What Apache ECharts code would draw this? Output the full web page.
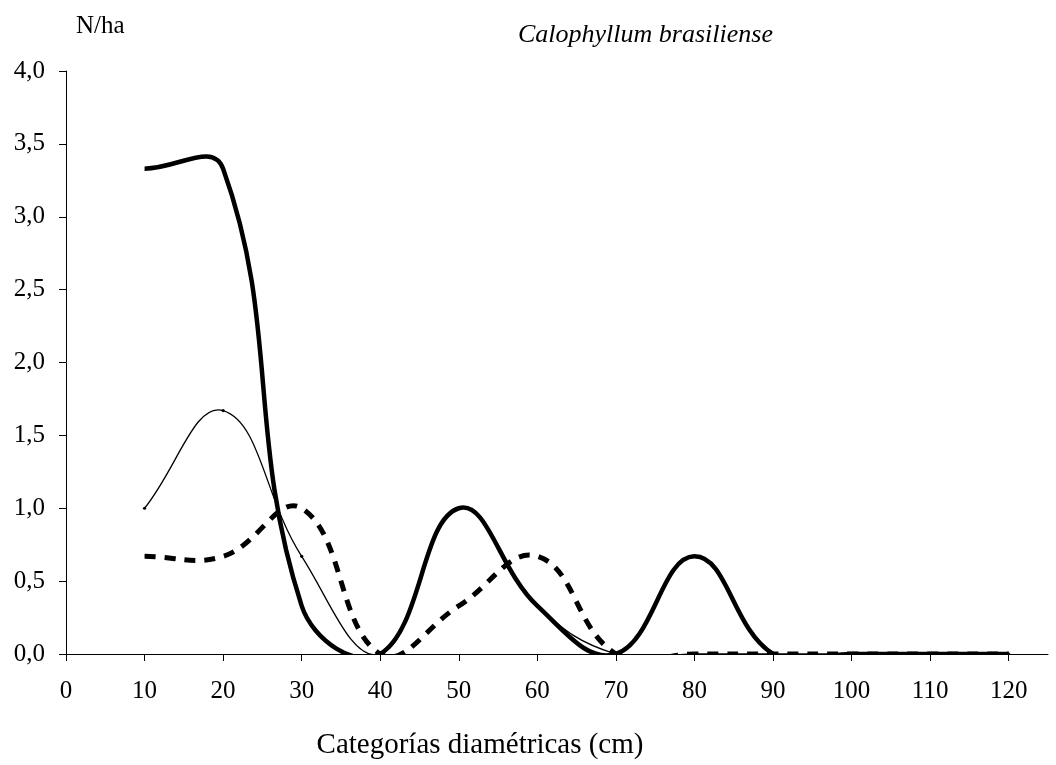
<!DOCTYPE html>
<html>
<head>
<meta charset="utf-8">
<script src="https://cdn.jsdelivr.net/npm/echarts@6/dist/echarts.min.js"></script>
<style>
  html, body { margin: 0; padding: 0; background: #fff; }
  #chart { width: 1056px; height: 765px; }
</style>
</head>
<body>
<div id="chart"></div>
<script>
// categorías diamétricas (cm)
const diametros = [10, 20, 30, 40, 50, 60, 70, 80, 90, 100, 110, 120];
// N/ha por serie
const serieGruesa = [3.33, 3.33, 0.33, 0, 1.0, 0.33, 0, 0.67, 0, 0, 0, 0];
const serieFina = [1.0, 1.67, 0.67, 0, 1.0, 0.33, 0, 0, 0, 0, 0, 0];
const serieDiscontinua = [0.67, 0.67, 1.0, 0, 0.33, 0.67, 0, 0, 0, 0, 0, 0];
const xTicks = [0, 10, 20, 30, 40, 50, 60, 70, 80, 90, 100, 110, 120];

const pares = (ys) => diametros.map((x, i) => [x, ys[i]]);
const fuente = '"Liberation Serif", "Times New Roman", serif';

// curva suavizada tipo Excel (bezier con tangentes ponderadas por longitud)
function rutaSuave(pts, s) {
  const dist = (a, b) => Math.hypot(b[0] - a[0], b[1] - a[1]);
  let d = 'M' + pts[0][0] + ',' + pts[0][1];
  for (let i = 0; i < pts.length - 1; i++) {
    const p0 = pts[i - 1] || pts[i];
    const p1 = pts[i];
    const p2 = pts[i + 1];
    const p3 = pts[i + 2] || pts[i + 1];
    const d01 = dist(p0, p1), d12 = dist(p1, p2), d23 = dist(p2, p3);
    const r1 = d01 + d12 > 0 ? s * d12 / (d01 + d12) : 0;
    const r2 = d12 + d23 > 0 ? s * d12 / (d12 + d23) : 0;
    const c1 = [p1[0] + (p2[0] - p0[0]) * r1, p1[1] + (p2[1] - p0[1]) * r1];
    const c2 = [p2[0] - (p3[0] - p1[0]) * r2, p2[1] - (p3[1] - p1[1]) * r2];
    d += 'C' + c1[0] + ',' + c1[1] + ' ' + c2[0] + ',' + c2[1] + ' ' + p2[0] + ',' + p2[1];
  }
  return d;
}

function serieSuave(valores, estilo, puntos) {
  return {
    type: 'custom',
    data: pares(valores),
    encode: { x: 0, y: 1 },
    clip: true,
    silent: true,
    renderItem: function (params, api) {
      if (params.dataIndex !== 0) return null;
      const pts = diametros.map((x, i) => api.coord([x, valores[i]]));
      const hijos = [{
        type: 'path',
        shape: { pathData: rutaSuave(pts, 0.42) },
        style: Object.assign({ fill: null, stroke: '#000', lineCap: 'butt', lineJoin: 'round' }, estilo)
      }];
      if (puntos) {
        pts.forEach(p => hijos.push({
          type: 'circle', shape: { cx: p[0], cy: p[1], r: 1.6 }, style: { fill: '#000' }
        }));
      }
      return { type: 'group', children: hijos };
    }
  };
}

const chart = echarts.init(document.getElementById('chart'));

chart.setOption({
  animation: false,
  backgroundColor: '#fff',
  textStyle: { fontFamily: fuente, color: '#000' },
  title: [
    {
      text: 'Calophyllum brasiliense',
      left: 513, top: 17,
      textStyle: { fontFamily: fuente, fontStyle: 'italic', fontWeight: 'normal', fontSize: 26, color: '#000' }
    },
    {
      text: 'N/ha',
      left: 71, top: 9,
      textStyle: { fontFamily: fuente, fontWeight: 'normal', fontSize: 25, color: '#000' }
    }
  ],
  grid: { left: 66, right: 8, top: 71, bottom: 108, containLabel: false },
  xAxis: {
    type: 'value',
    min: 0, max: 125, interval: 10,
    name: 'Categorías diamétricas (cm)',
    nameLocation: 'middle',
    nameGap: 77,
    nameTextStyle: { fontFamily: fuente, fontSize: 29, color: '#000', padding: [0, 154, 0, 0] },
    splitLine: { show: false },
    axisLine: { lineStyle: { color: '#000', width: 1 } },
    axisTick: { inside: false, length: 7, lineStyle: { color: '#000' }, customValues: xTicks },
    axisLabel: { fontFamily: fuente, fontSize: 25, color: '#000', margin: 25, customValues: xTicks }
  },
  yAxis: {
    type: 'value',
    min: 0, max: 4, interval: 0.5,
    splitLine: { show: false },
    axisLine: { show: true, lineStyle: { color: '#000', width: 1 } },
    axisTick: { show: true, length: 7, lineStyle: { color: '#000' } },
    axisLabel: {
      fontFamily: fuente, fontSize: 25, color: '#000', margin: 21,
      formatter: (v) => v.toFixed(1).replace('.', ',')
    }
  },
  series: [
    serieSuave(serieDiscontinua, { lineWidth: 5, lineDash: [11, 9] }, false),
    serieSuave(serieFina, { lineWidth: 1.3 }, true),
    serieSuave(serieGruesa, { lineWidth: 4.5 }, false)
  ]
});
</script>
</body>
</html>
